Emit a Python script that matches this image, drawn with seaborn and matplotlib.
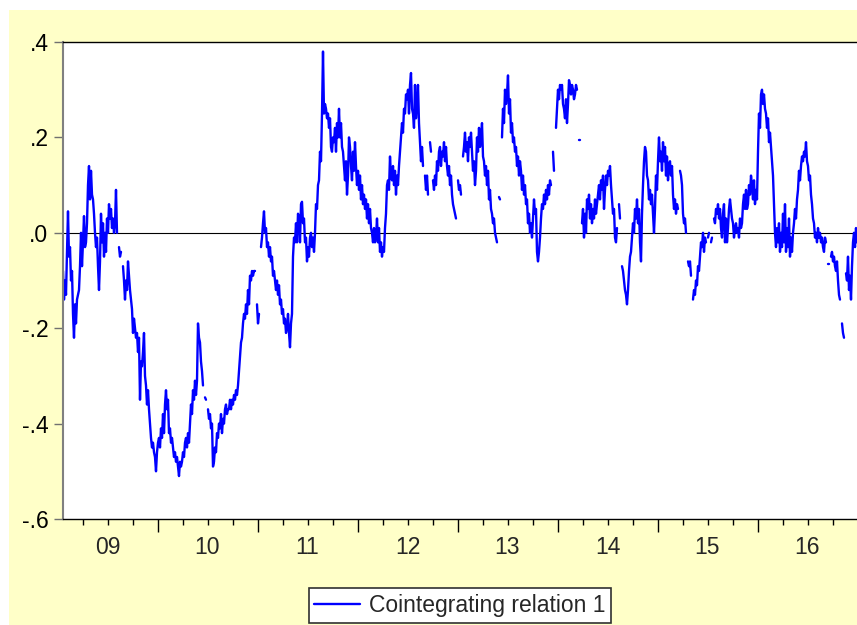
import numpy as np
import pandas as pd
import matplotlib
matplotlib.use("Agg")
import matplotlib.pyplot as plt
from matplotlib.lines import Line2D
from matplotlib.patches import Rectangle
from matplotlib.ticker import FuncFormatter
import seaborn as sns

nan = np.nan

# Observation grid (fraction of a year between observations)
first_obs = 2009.055
obs_step = 0.01

# Cointegrating relation 1 (nan = missing obs)
relation = [
    -0.08, -0.14, -0.10, -0.13, -0.04, 0.045, -0.05,
    -0.03, -0.10, -0.08, -0.17, -0.22, -0.15, -0.19, -0.14, -0.13, -0.12,
    -0.07, 0.00, -0.07, -0.02, 0.035, -0.03, -0.02, 0.02, 0.10, 0.14,
    0.07, 0.13, 0.08, 0.07, 0.04, 0.00, -0.03, -0.01, -0.07, -0.12,
    -0.06, 0.04, -0.02, 0.02, -0.05, 0.00, -0.04, 0.03, 0.00, 0.06,
    0.03, 0.05, 0.01, 0.03, 0.00, 0.02, 0.09, 0.00, nan, -0.03,
    -0.05, -0.04, nan, -0.07, -0.10, -0.14, -0.10, -0.12, -0.06, -0.09,
    -0.12, -0.14, -0.16, -0.21, -0.18, -0.20, -0.22, -0.21, -0.25, -0.22,
    -0.35, -0.27, -0.28, -0.25, -0.21, -0.30, -0.32, -0.36, -0.33, -0.37,
    -0.40, -0.43, -0.45, -0.44, -0.46, -0.47, -0.50, -0.46, -0.44, -0.43,
    -0.45, -0.41, -0.43, -0.38, -0.42, -0.36, -0.33, -0.37, -0.35, -0.42,
    -0.41, -0.44, -0.43, -0.45, -0.47, -0.46, -0.48, -0.47, -0.49, -0.51,
    -0.48, -0.49, -0.48, -0.46, -0.47, -0.44, -0.43, -0.45, -0.42, -0.44,
    -0.40, -0.36, -0.38, -0.33, -0.35, -0.31, -0.34, -0.31, -0.19, -0.22,
    -0.23, -0.27, -0.29, -0.32, nan, -0.345, -0.35, nan, -0.37, -0.39,
    -0.38, -0.41, -0.40, -0.49, -0.48, -0.45, -0.46, -0.42, -0.43, -0.40,
    -0.41, -0.38, -0.42, -0.39, -0.40, -0.37, -0.36, -0.38, -0.37, -0.37,
    -0.35, -0.37, -0.35, -0.36, -0.34, -0.35, -0.33, -0.34, -0.32, -0.29,
    -0.26, -0.23, -0.22, -0.19, -0.17, -0.18, -0.15, -0.17, -0.12, -0.15,
    -0.09, -0.10, -0.08, -0.09, -0.08, -0.08, nan, -0.15, -0.19, -0.17,
    nan, -0.03, -0.01, 0.02, 0.045, 0.00, 0.01, -0.03, -0.02, -0.05,
    -0.03, -0.06, -0.05, -0.09, -0.08, -0.10, -0.12, -0.10, -0.13, -0.11,
    -0.15, -0.14, -0.17, -0.16, -0.19, -0.18, -0.21, -0.20, -0.17, -0.21,
    -0.24, -0.19, -0.17, -0.05, -0.01, -0.02, 0.02, -0.02, 0.04, 0.03,
    -0.02, 0.06, 0.065, 0.02, 0.03, -0.02, -0.01, -0.06, -0.03, -0.05,
    -0.01, 0.00, -0.03, -0.01, -0.04, 0.00, 0.06, 0.05, 0.10, 0.11,
    0.17, 0.15, 0.25, 0.38, 0.25, 0.27, 0.26, 0.24, 0.25, 0.22,
    0.24, 0.18, 0.17, 0.20, 0.19, 0.22, 0.17, 0.23, 0.20, 0.26,
    0.20, 0.23, 0.18, 0.17, 0.14, 0.11, 0.15, 0.08, 0.12, 0.20,
    0.18, 0.14, 0.11, 0.17, 0.13, 0.19, 0.14, 0.10, 0.13, 0.09,
    0.12, 0.07, 0.10, 0.06, 0.08, 0.05, 0.07, 0.03, 0.06, 0.02,
    0.05, 0.01, 0.00, -0.02, 0.01, -0.02, -0.01, 0.03, -0.02, 0.01,
    -0.04, -0.02, -0.05, -0.03, -0.04, 0.01, 0.04, 0.10, 0.11, 0.09,
    0.16, 0.12, 0.11, 0.14, 0.10, 0.13, 0.08, 0.12, 0.10, 0.14,
    0.17, 0.20, 0.23, 0.21, 0.26, 0.25, 0.29, 0.28, 0.30, 0.25,
    0.31, 0.335, 0.26, 0.25, 0.22, 0.31, 0.24, 0.27, 0.31, 0.23,
    0.19, 0.15, 0.18, 0.14, nan, 0.12, 0.09, 0.12, 0.08, nan,
    0.19, 0.17, nan, 0.11, 0.09, 0.12, 0.10, 0.15, 0.13, 0.17,
    0.18, 0.14, 0.17, 0.16, 0.19, 0.15, 0.18, 0.14, 0.12, 0.14,
    0.10, 0.12, 0.08, 0.06, 0.05, 0.04, 0.03, nan, 0.11, 0.09,
    0.10, 0.08, nan, 0.16, 0.18, 0.21, 0.17, 0.19, 0.15, 0.20,
    0.18, 0.21, 0.17, 0.13, 0.15, 0.10, 0.13, 0.20, 0.17, 0.22,
    0.18, 0.20, 0.23, 0.16, 0.15, 0.12, 0.14, 0.10, 0.13, 0.07,
    0.09, 0.05, 0.04, 0.02, 0.03, 0.00, -0.01, -0.02, nan, 0.075,
    0.07, nan, 0.20, 0.26, 0.23, 0.30, 0.27, 0.29, 0.33, 0.25,
    0.28, 0.21, 0.23, 0.19, 0.20, 0.17, 0.18, 0.14, 0.16, 0.12,
    0.15, 0.13, 0.09, 0.12, 0.08, 0.10, 0.06, 0.07, 0.02, 0.04,
    0.00, 0.02, -0.01, 0.03, 0.07, 0.04, 0.05, -0.04, -0.06, -0.04,
    -0.01, 0.03, 0.06, 0.05, 0.08, 0.06, 0.09, 0.07, 0.10, 0.08,
    0.11, 0.10, nan, 0.17, 0.13, nan, 0.22, 0.26, 0.30, 0.28,
    0.31, 0.30, 0.31, 0.27, 0.26, 0.24, 0.28, 0.23, 0.27, 0.32,
    0.31, 0.29, 0.31, 0.30, 0.28, 0.29, 0.31, 0.30, nan, 0.195,
    0.195, nan, 0.02, 0.05, -0.01, 0.04, 0.00, 0.07, 0.05, 0.08,
    0.03, 0.06, 0.02, 0.05, 0.03, 0.07, 0.04, 0.06, 0.08, 0.10,
    0.07, 0.11, 0.09, 0.12, 0.05, 0.09, 0.12, 0.10, 0.13, 0.12,
    0.14, 0.10, 0.07, 0.04, 0.05, -0.01, -0.02, 0.01, nan, 0.06,
    0.03, nan, -0.07, -0.08, -0.10, -0.12, -0.13, -0.15, -0.12, -0.08,
    -0.05, -0.04, -0.01, 0.02, 0.00, 0.05, 0.03, 0.07, 0.02, 0.05,
    -0.02, -0.06, 0.04, 0.10, 0.15, 0.18, 0.17, 0.12, 0.11, 0.07,
    0.09, 0.06, 0.08, 0.04, 0.00, 0.05, 0.12, 0.09, 0.15, 0.20,
    0.15, 0.17, 0.13, 0.19, 0.15, 0.18, 0.12, 0.16, 0.11, 0.14,
    0.15, 0.12, 0.14, 0.08, 0.05, 0.07, 0.04, 0.06, 0.05, nan,
    0.13, 0.12, 0.10, 0.04, 0.02, 0.03, 0.00, nan, -0.06, -0.07,
    -0.06, -0.09, nan, -0.14, -0.12, -0.13, -0.10, -0.11, -0.07, -0.08,
    -0.05, -0.02, -0.03, 0.00, -0.04, -0.01, -0.02, nan, -0.01, 0.00,
    nan, -0.02, -0.01, nan, 0.03, 0.02, 0.05, 0.04, 0.06, 0.03,
    0.05, 0.01, -0.01, 0.04, 0.06, -0.02, 0.03, -0.02, 0.01, 0.05,
    0.07, 0.05, 0.03, 0.02, -0.01, 0.01, 0.02, 0.00, 0.01, -0.01,
    0.03, 0.01, 0.02, 0.06, 0.08, 0.05, 0.09, 0.05, 0.06, 0.10,
    0.08, 0.12, 0.10, 0.07, 0.11, 0.06, 0.09, 0.07, 0.17, 0.25,
    0.22, 0.29, 0.30, 0.27, 0.29, 0.26, 0.25, 0.22, 0.24, 0.19,
    0.21, 0.18, 0.15, 0.12, 0.06, 0.00, -0.03, 0.01, -0.02, 0.02,
    -0.04, 0.00, -0.03, 0.04, -0.02, 0.06, -0.04, 0.01, -0.03, 0.03,
    -0.05, -0.01, -0.04, 0.00, 0.02, 0.05, 0.03, 0.07, 0.09, 0.13,
    0.11, 0.14, 0.16, 0.15, 0.17, 0.16, 0.19, 0.15, 0.14, 0.11,
    0.12, 0.08, 0.06, 0.03, 0.02, -0.01, 0.00, -0.02, 0.01, -0.01,
    0.00, -0.02, -0.01, -0.03, -0.04, -0.01, -0.02, nan, -0.065, -0.065,
    nan, -0.05, -0.04, -0.06, -0.05, -0.07, -0.08, -0.06, -0.10, -0.13,
    -0.14, nan, -0.19, -0.21, -0.22, nan, -0.085, -0.10, -0.05, -0.12,
    -0.09, -0.14, -0.07, -0.02, 0.00, -0.03, 0.01, -0.02,
]

year_starts = [2010, 2011, 2012, 2013, 2014, 2015, 2016]
year_labels = ['09', '10', '11', '12', '13', '14', '15', '16']
label_years = [2009, 2010, 2011, 2012, 2013, 2014, 2015, 2016]
y_ticks = [-0.6, -0.4, -0.2, 0.0, 0.2, 0.4]

sns.set_style('white')
plt.rcParams['font.family'] = ['Liberation Sans', 'DejaVu Sans']

df = pd.DataFrame({'value': relation})
df['year'] = first_obs + obs_step * np.arange(len(df))
df['segment'] = df['value'].isna().cumsum()
df = df.dropna()

fig = plt.figure(figsize=(8.57, 6.25), dpi=100)
fig.patch.set_facecolor('white')
# yellow EViews frame, behind everything
frame = Rectangle((9 / 857, 0), 1, 1 - 10 / 625, transform=fig.transFigure,
                  facecolor='#FFFFC8', edgecolor='none', zorder=-10)
fig.add_artist(frame)

ax = fig.add_axes([63 / 857, 1 - 519 / 625, 1 - 63 / 857, 477 / 625])
ax.set_zorder(1)
ax.set_facecolor('white')

sns.lineplot(data=df, x='year', y='value', units='segment', estimator=None,
             sort=False, color='#0000FF', lw=1.7, ax=ax)
ax.axhline(0, color='black', lw=0.8, zorder=1)

ax.set_xlim(first_obs, first_obs + obs_step * (len(relation) - 1))
ax.set_ylim(-0.6, 0.4)
ax.set_xlabel('')
ax.set_ylabel('')

# y axis
ax.set_yticks(y_ticks)
ax.yaxis.set_major_formatter(FuncFormatter(lambda v, p: f'{v:.1f}'.replace('0.', '.')))
ax.tick_params(axis='y', which='major', left=True, length=6.5, width=1, color='#707070',
               labelsize=16.5, pad=4, labelcolor='black')

# x axis: long ticks at year starts, short at quarters, labels mid-year
minor_pos, minor_lab = [], []
for yr, lab in zip(label_years, year_labels):
    for q, txt in [(0.25, ''), (0.5, lab), (0.75, '')]:
        minor_pos.append(yr + q)
        minor_lab.append(txt)
ax.set_xticks(year_starts)
ax.set_xticklabels([''] * len(year_starts))
ax.set_xticks(minor_pos, labels=minor_lab, minor=True)
ax.tick_params(axis='x', which='major', bottom=True, length=9, width=1, color='black')
ax.tick_params(axis='x', which='minor', bottom=True, length=4.5, width=1, color='black',
               labelsize=16.5, pad=8)

for side in ['top', 'bottom']:
    ax.spines[side].set_color('black')
    ax.spines[side].set_linewidth(1)
ax.spines['left'].set_color('#808080')
ax.spines['left'].set_linewidth(1.5)
ax.spines['right'].set_visible(False)

handle = Line2D([], [], color='#0000FF', lw=1.7)
leg = ax.legend([handle], ['Cointegrating relation 1'], loc='center',
                bbox_to_anchor=(0.5, -0.181), fancybox=False, framealpha=1,
                edgecolor='#303030', fontsize=16.5, handlelength=2.0,
                handletextpad=0.4, borderpad=0.25)
leg.get_frame().set_linewidth(1.2)

fig.savefig('out.png', dpi=100, facecolor=fig.get_facecolor())
